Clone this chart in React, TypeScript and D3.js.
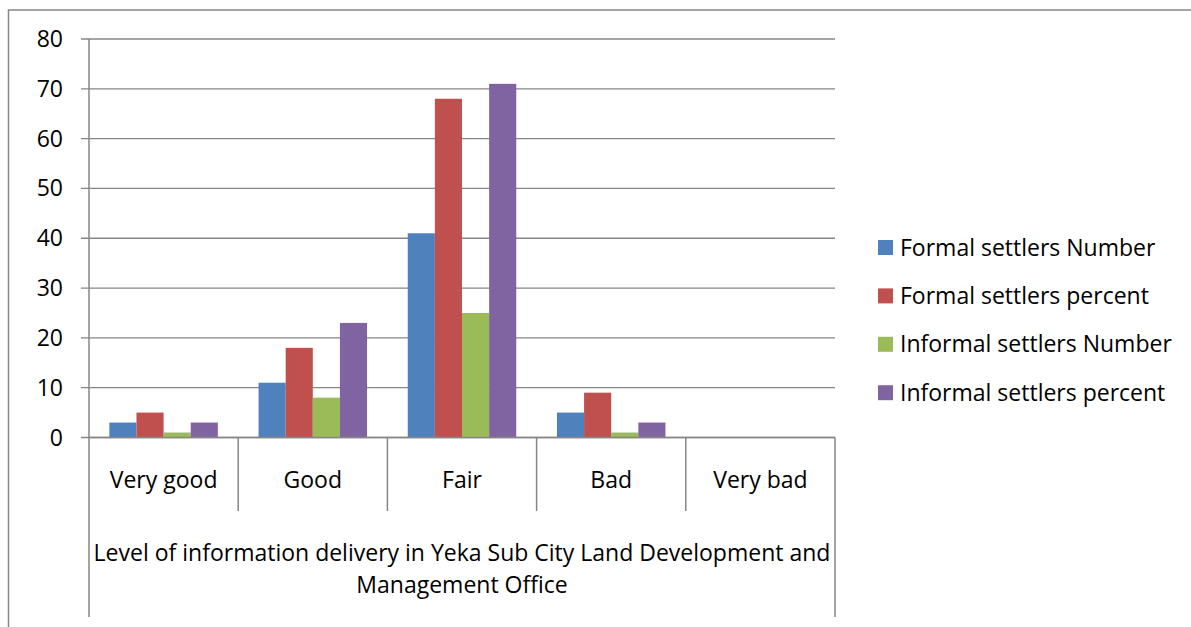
import React, { useEffect, useRef } from 'react';
import * as d3 from 'd3';

const categories = ['Very good', 'Good', 'Fair', 'Bad', 'Very bad'];
const seriesNames = [
    'Formal settlers Number',
    'Formal settlers percent',
    'Informal settlers Number',
    'Informal settlers percent',
];
const formalNumber = [3, 11, 41, 5, 0];
const formalPercent = [5, 18, 68, 9, 0];
const informalNumber = [1, 8, 25, 1, 0];
const informalPercent = [3, 23, 71, 3, 0];
const yTicks = [0, 10, 20, 30, 40, 50, 60, 70, 80];
const axisTitle = [
    'Level of information delivery in Yeka Sub City Land Development and',
    'Management Office',
];
const colors = ['#4F81BD', '#C0504D', '#9BBB59', '#8064A2'];

const W = 1191;
const H = 627;
const FONT = '"Open Sans", sans-serif';
const FS = 23;

const App: React.FC = () => {
    const svgRef = useRef<SVGSVGElement | null>(null);

    useEffect(() => {
        if (!svgRef.current) return;
        const svg = d3.select(svgRef.current);
        svg.selectAll('*').remove();

        const series = [formalNumber, formalPercent, informalNumber, informalPercent];

        // plot area
        const left = 89;
        const right = 835;
        const top = 39;
        const bottom = 437.5;

        const x = d3.scaleBand<string>()
            .domain(categories)
            .range([left, right]);

        // gap width 150% -> 0.75 bar on each side
        const inner = d3.scaleBand<number>()
            .domain(d3.range(series.length))
            .range([0, x.bandwidth()])
            .paddingOuter(0.75)
            .paddingInner(0);

        const y = d3.scaleLinear().domain([0, 80]).range([bottom, top]);

        // outer frame
        svg.append('rect')
            .attr('x', 8.5)
            .attr('y', 10)
            .attr('width', W + 20)
            .attr('height', H + 20)
            .attr('fill', 'none')
            .attr('stroke', '#878787')
            .attr('stroke-width', 1.5);

        svg.append('g')
            .selectAll('line')
            .data(yTicks)
            .enter()
            .append('line')
            .attr('x1', left - 8)
            .attr('x2', right)
            .attr('y1', d => y(d))
            .attr('y2', d => y(d))
            .attr('stroke', '#868686')
            .attr('stroke-width', 1.3);

        svg.append('g')
            .selectAll('text')
            .data(yTicks)
            .enter()
            .append('text')
            .attr('x', 63)
            .attr('y', d => y(d))
            .attr('dy', '0.35em')
            .attr('text-anchor', 'end')
            .attr('font-family', FONT)
            .attr('font-size', FS)
            .attr('fill', '#000')
            .text(d => d);

        // bars
        series.forEach((vals, si) => {
            svg.append('g')
                .selectAll('rect')
                .data(vals.map((v, i) => ({ v, cat: categories[i] })).filter(d => d.v > 0))
                .enter()
                .append('rect')
                .attr('x', d => (x(d.cat) as number) + (inner(si) as number))
                .attr('y', d => y(d.v))
                .attr('width', inner.bandwidth())
                .attr('height', d => bottom - y(d.v))
                .attr('fill', colors[si]);
        });

        // axis lines
        const axisG = svg.append('g')
            .attr('stroke', '#868686')
            .attr('stroke-width', 1.5);
        axisG.append('line')
            .attr('x1', left).attr('x2', left)
            .attr('y1', top).attr('y2', 617);
        axisG.append('line')
            .attr('x1', left).attr('x2', right)
            .attr('y1', bottom).attr('y2', bottom);
        axisG.append('line')
            .attr('x1', right).attr('x2', right)
            .attr('y1', bottom).attr('y2', 617);
        axisG.selectAll('line.cat')
            .data(categories.slice(1))
            .enter()
            .append('line')
            .attr('class', 'cat')
            .attr('x1', d => x(d) as number)
            .attr('x2', d => x(d) as number)
            .attr('y1', bottom)
            .attr('y2', 511);

        svg.append('g')
            .selectAll('text')
            .data(categories)
            .enter()
            .append('text')
            .attr('x', d => (x(d) as number) + x.bandwidth() / 2)
            .attr('y', 480)
            .attr('dy', '0.35em')
            .attr('text-anchor', 'middle')
            .attr('font-family', FONT)
            .attr('font-size', FS)
            .text(d => d);

        svg.append('g')
            .selectAll('text')
            .data(axisTitle)
            .enter()
            .append('text')
            .attr('x', (left + right) / 2)
            .attr('y', (d, i) => 553 + i * 32)
            .attr('dy', '0.35em')
            .attr('text-anchor', 'middle')
            .attr('font-family', FONT)
            .attr('font-size', FS)
            .text(d => d);

        // legend
        const rows = svg.append('g')
            .selectAll('g')
            .data(seriesNames)
            .enter()
            .append('g')
            .attr('transform', (d, i) => `translate(878, ${247.5 + i * 48.4})`);
        rows.append('rect')
            .attr('x', 0)
            .attr('y', -7.5)
            .attr('width', 15)
            .attr('height', 15)
            .attr('fill', (d, i) => colors[i]);
        rows.append('text')
            .attr('x', 22)
            .attr('y', 0)
            .attr('dy', '0.35em')
            .attr('font-family', FONT)
            .attr('font-size', FS)
            .text(d => d);
    }, []);

    return (
        <svg
            ref={svgRef}
            width={W}
            height={H}
            style={{ position: 'absolute', left: 0, top: 0, background: '#fff' }}
        />
    );
};

export default App;
